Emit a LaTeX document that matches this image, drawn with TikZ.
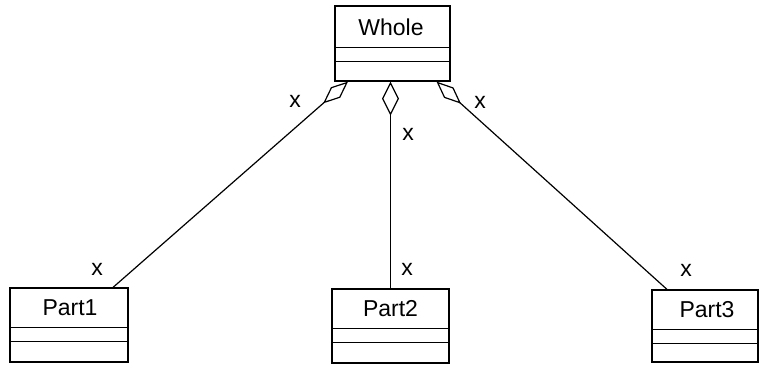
\documentclass[tikz,border=0pt]{standalone}
\usepackage{fontspec}
\setmainfont{Liberation Sans}
\usetikzlibrary{arrows.meta}
\begin{document}
\begin{tikzpicture}[x=1pt,y=-1pt,line width=1.2pt,
  cls/.style={draw,rectangle,inner sep=0pt},
  lbl/.style={font=\fontsize{23}{23}\selectfont,inner sep=0pt},
  mult/.style={font=\fontsize{23}{23}\selectfont,inner sep=0pt},
  agg/.style={-{Diamond[open,length=33pt,width=14pt]}},
  aggc/.style={-{Diamond[open,length=34pt,width=17pt]}}]
\useasboundingbox (0,0) rectangle (759,367);
% Whole
\node[cls,minimum width=115pt,minimum height=75pt] (whole) at (392.5,43.5) {};
\node[lbl] (wholet) at (391,27) {Whole};
\draw ([yshift=-42pt]whole.north west) -- ([yshift=-42pt]whole.north east);
\draw ([yshift=-56pt]whole.north west) -- ([yshift=-56pt]whole.north east);
% Part1
\node[cls,minimum width=118pt,minimum height=74pt] (p1) at (69,325) {};
\node[lbl] (p1t) at (70,308) {Part1};
\draw ([yshift=-40pt]p1.north west) -- ([yshift=-40pt]p1.north east);
\draw ([yshift=-54pt]p1.north west) -- ([yshift=-54pt]p1.north east);
% Part2
\node[cls,minimum width=117pt,minimum height=74pt] (p2) at (390.5,326) {};
\node[lbl] (p2t) at (390.5,309) {Part2};
\draw ([yshift=-40pt]p2.north west) -- ([yshift=-40pt]p2.north east);
\draw ([yshift=-54pt]p2.north west) -- ([yshift=-54pt]p2.north east);
% Part3
\node[cls,minimum width=106pt,minimum height=72pt] (p3) at (705,326) {};
\node[lbl] (p3t) at (707,310) {Part3};
\draw ([yshift=-40pt]p3.north west) -- ([yshift=-40pt]p3.north east);
\draw ([yshift=-54pt]p3.north west) -- ([yshift=-54pt]p3.north east);
% connectors
\draw[agg] ([xshift=44pt]p1.north) -- ([xshift=-44.5pt]whole.south);
\draw[aggc] (p2.north) -- (p2.north |- whole.south);
\draw[agg] ([xshift=-38pt]p3.north) -- ([xshift=44pt]whole.south);
% multiplicities
\node[mult] (m1) at (295,101) {x};
\node[mult] (m2) at (408,134) {x};
\node[mult] (m3) at (480,102) {x};
\node[mult] (m4) at (97,269) {x};
\node[mult] (m5) at (407,269) {x};
\node[mult] (m6) at (686,270) {x};
\end{tikzpicture}
\end{document}
